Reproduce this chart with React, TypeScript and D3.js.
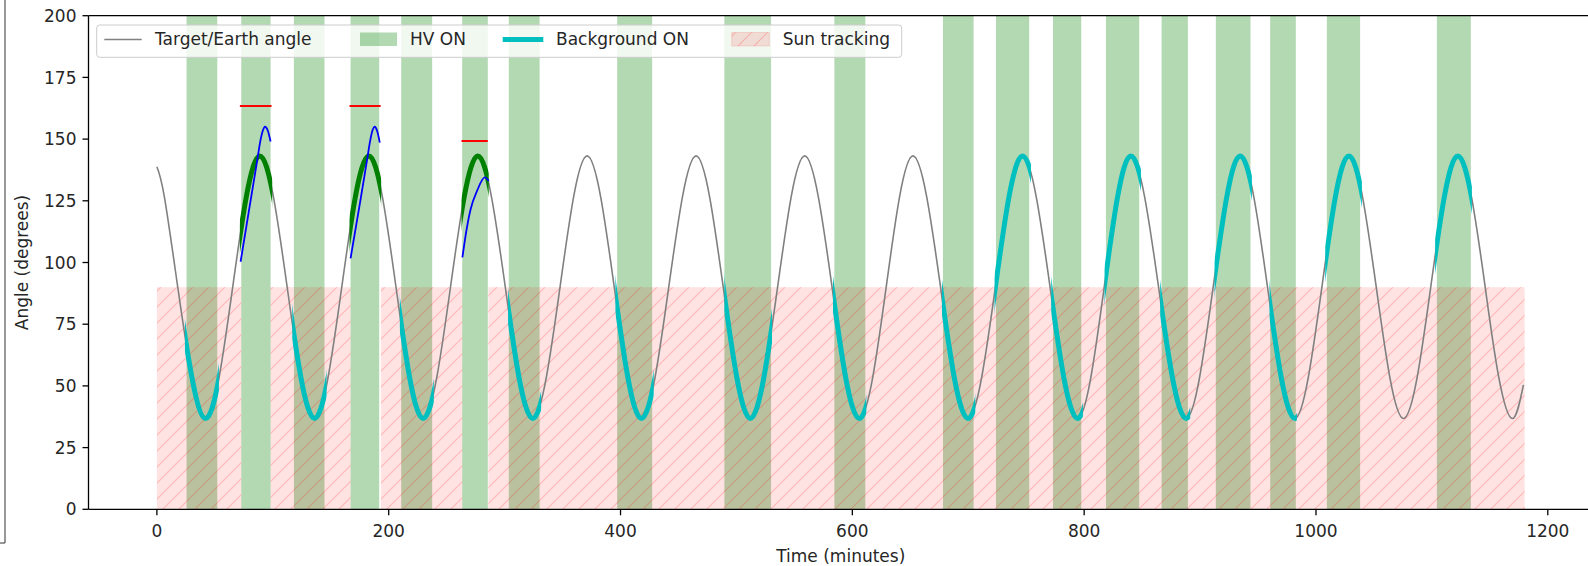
import * as d3 from "d3";

// Target/Earth angle (minutes, degrees)
const angleTimes = [
  0, 6.5, 18.0, 30.2, 42.0, 53.7, 65.4, 77.1, 88.8,
  100.6, 112.4, 124.2, 136.0, 147.7, 159.5, 171.2, 182.9,
  194.6, 206.3, 218.0, 229.7, 241.5, 253.3, 265.1, 276.9,
  288.7, 300.6, 312.4, 324.3, 336.0, 347.8, 359.5, 371.2,
  382.9, 394.6, 406.3, 418.0, 429.8, 441.6, 453.4, 465.2,
  476.9, 488.6, 500.3, 512.0, 523.7, 535.5, 547.2, 558.9,
  570.7, 582.5, 594.2, 606.0, 617.6, 629.2, 640.7, 652.3,
  664.2, 676.1, 687.9, 699.8, 711.6, 723.4, 735.1, 746.9,
  758.7, 770.6, 782.4, 794.3, 805.8, 817.3, 828.8, 840.3,
  852.2, 864.2, 876.1, 888.0, 899.6, 911.3, 923.0, 934.6,
  946.4, 958.2, 970.0, 981.8, 993.4, 1005.1, 1016.7, 1028.4,
  1040.2, 1052.0, 1063.7, 1075.5, 1087.3, 1099.0, 1110.7, 1122.4,
  1134.2, 1146.0, 1157.7, 1169.5, 1179.0,
];
const angleValues = [
  138.8, 126.5, 90, 53.5, 36.8, 53.5, 90, 126.5, 143.2,
  126.5, 90, 53.5, 36.8, 53.5, 90, 126.5, 143.2,
  126.5, 90, 53.5, 36.8, 53.5, 90, 126.5, 143.2,
  126.5, 90, 53.5, 36.8, 53.5, 90, 126.5, 143.2,
  126.5, 90, 53.5, 36.8, 53.5, 90, 126.5, 143.2,
  126.5, 90, 53.5, 36.8, 53.5, 90, 126.5, 143.2,
  126.5, 90, 53.5, 36.8, 53.5, 90, 126.5, 143.2,
  126.5, 90, 53.5, 36.8, 53.5, 90, 126.5, 143.2,
  126.5, 90, 53.5, 36.8, 53.5, 90, 126.5, 143.2,
  126.5, 90, 53.5, 36.8, 53.5, 90, 126.5, 143.2,
  126.5, 90, 53.5, 36.8, 53.5, 90, 126.5, 143.2,
  126.5, 90, 53.5, 36.8, 53.5, 90, 126.5, 143.2,
  126.5, 90, 53.5, 36.8, 50.4,
];

// HV ON periods [start, end] in minutes
const hvOn = [
  [25.6, 52.1], [72.8, 98.1], [118.2, 144.6], [167.1, 191.8], [210.8, 237.5],
  [263.4, 285.5], [303.6, 330.2], [397.1, 427.3], [489.6, 529.9], [584.5, 611.2],
  [678.2, 704.6], [723.9, 752.6], [773.1, 797.5], [818.8, 847.5], [866.8, 889.5],
  [913.6, 943.5], [960.5, 982.6], [1009.4, 1038.1], [1104.3, 1133.6],
];

// Background ON periods (cyan, on the angle curve)
const backgroundOn = [
  [24.2, 53.5], [116.8, 146.4], [209.6, 238.9], [303.0, 331.5], [395.6, 428.6],
  [489.6, 530.7], [583.3, 612.1], [677.3, 706.1], [722.7, 754.1], [771.6, 798.9],
  [817.6, 849.0], [865.6, 891.5], [912.5, 944.7], [959.9, 983.5], [1008.0, 1039.6],
  [1102.8, 1134.5],
];

// thick green parts of the angle curve
const greenArcs = [[71.6, 99.5], [166.2, 193.5], [262.8, 286.3]];

// Sun tracking periods, 0..90 degrees
const sunTracking = [[0, 72.8], [98.1, 167.1], [193.2, 263.4], [286.0, 1180.0]];
const sunTrackingTop = 90;

// blue arcs
const blueTimes = [
  [72.2, 80.8, 86.6, 89.4, 91.6, 93.2, 95.7, 98.1],
  [167.1, 175.7, 181.4, 184.1, 186.2, 187.8, 190.1, 192.3],
  [263.6, 266.2, 270.5, 276.3, 282.9, 286.3],
];
const blueValues = [
  [100.3, 125.0, 141.5, 149.6, 153.7, 155.0, 153.4, 149.0],
  [101.7, 125.5, 141.8, 149.6, 153.8, 155.0, 153.2, 148.6],
  [102.1, 110.5, 121.3, 129.1, 134.5, 133.0],
];

// red limits
const redStarts = [71.6, 166.2, 262.8];
const redEnds = [98.9, 193.0, 285.5];
const redValues = [163.4, 163.4, 149.2];

const xTicks = [0, 200, 400, 600, 800, 1000, 1200];
const yTicks = [0, 25, 50, 75, 100, 125, 150, 175, 200];

const W = 1588;
const H = 566;
const left = 88.5;
const right = 1593;
const top = 15.7;
const bottom = 509.3;
const FONT = "DejaVu Sans, sans-serif";
const FS = 17;

export default function App() {
  const x = d3.scaleLinear().domain([-59, 1239]).range([left, right]);
  const y = d3.scaleLinear().domain([0, 200]).range([bottom, top]);

  const line = d3
    .line<number[]>()
    .x((d) => x(d[0]))
    .y((d) => y(d[1]))
    .curve(d3.curveNatural);
  const anglePath = line(angleTimes.map((t, i) => [t, angleValues[i]])) || "";

  const blueLine = d3
    .line<number[]>()
    .x((d) => x(d[0]))
    .y((d) => y(d[1]))
    .curve(d3.curveMonotoneX);

  return (
    <svg
      width={W}
      height={H}
      style={{ position: "absolute", left: 0, top: 0, background: "#fff" }}
      fontFamily={FONT}
    >
      <defs>
        <clipPath id="plot">
          <rect x={left} y={top} width={right - left} height={bottom - top} />
        </clipPath>
        {backgroundOn.map((s, i) => (
          <clipPath id={"bg" + i} key={"bg" + i}>
            <rect x={x(s[0])} y={0} width={x(s[1]) - x(s[0])} height={H} />
          </clipPath>
        ))}
        {greenArcs.map((s, i) => (
          <clipPath id={"ga" + i} key={"ga" + i}>
            <rect x={x(s[0])} y={0} width={x(s[1]) - x(s[0])} height={H} />
          </clipPath>
        ))}
        <pattern id="hatch" patternUnits="userSpaceOnUse" width={16} height={16}>
          <path
            d="M-1,17 L17,-1 M-4,4 L4,-4 M12,20 L20,12"
            stroke="rgba(255,0,0,0.2)"
            strokeWidth={1.1}
          />
        </pattern>
      </defs>

      {/* frame piece at the left edge */}
      <path d="M0,543 H5 V0" fill="none" stroke="#333" strokeWidth={1} />

      <g clipPath="url(#plot)">
        {hvOn.map((s, i) => (
          <rect
            key={"hv" + i}
            x={x(s[0])}
            y={top}
            width={x(s[1]) - x(s[0])}
            height={bottom - top}
            fill="rgba(0,128,0,0.3)"
          />
        ))}
        {sunTracking.map((s, i) => (
          <g key={"sun" + i}>
            <rect
              x={x(s[0])}
              y={y(sunTrackingTop)}
              width={x(s[1]) - x(s[0])}
              height={y(0) - y(sunTrackingTop)}
              fill="rgba(255,0,0,0.11)"
            />
            <rect
              x={x(s[0])}
              y={y(sunTrackingTop)}
              width={x(s[1]) - x(s[0])}
              height={y(0) - y(sunTrackingTop)}
              fill="url(#hatch)"
            />
          </g>
        ))}
        <path d={anglePath} fill="none" stroke="#808080" strokeWidth={1.6} />
        {backgroundOn.map((s, i) => (
          <path
            key={"bgl" + i}
            d={anglePath}
            fill="none"
            stroke="#00bfbf"
            strokeWidth={5}
            clipPath={`url(#bg${i})`}
          />
        ))}
        {greenArcs.map((s, i) => (
          <path
            key={"gal" + i}
            d={anglePath}
            fill="none"
            stroke="#008000"
            strokeWidth={5}
            clipPath={`url(#ga${i})`}
          />
        ))}
        {blueTimes.map((ts, i) => (
          <path
            key={"bl" + i}
            d={blueLine(ts.map((t, j) => [t, blueValues[i][j]])) || ""}
            fill="none"
            stroke="#0000ff"
            strokeWidth={1.8}
          />
        ))}
        {redStarts.map((s, i) => (
          <line
            key={"red" + i}
            x1={x(s)}
            x2={x(redEnds[i])}
            y1={y(redValues[i])}
            y2={y(redValues[i])}
            stroke="#ff0000"
            strokeWidth={2}
          />
        ))}
      </g>

      {/* spines */}
      <g fill="none" stroke="#000" strokeWidth={1.3}>
        <line x1={left} x2={left} y1={top} y2={bottom} />
        <line x1={right} x2={right} y1={top} y2={bottom} />
        <line x1={left} x2={right} y1={top} y2={top} />
        <line x1={left} x2={right} y1={bottom} y2={bottom} />
      </g>

      {/* y axis */}
      {yTicks.map((t) => (
        <g key={"yt" + t}>
          <line x1={left - 6} x2={left} y1={y(t)} y2={y(t)} stroke="#000" strokeWidth={1.3} />
          <text x={left - 12} y={y(t)} dy="0.36em" textAnchor="end" fontSize={FS} fill="#262626">
            {t}
          </text>
        </g>
      ))}
      {/* x axis */}
      {xTicks.map((t) => (
        <g key={"xt" + t}>
          <line x1={x(t)} x2={x(t)} y1={bottom} y2={bottom + 6} stroke="#000" strokeWidth={1.3} />
          <text x={x(t)} y={536.7} textAnchor="middle" fontSize={FS} fill="#262626">
            {t}
          </text>
        </g>
      ))}
      <text x={(left + right) / 2} y={562} textAnchor="middle" fontSize={FS} fill="#262626">
        Time (minutes)
      </text>
      <text
        transform={`translate(28,${(top + bottom) / 2}) rotate(-90)`}
        textAnchor="middle"
        fontSize={FS}
        fill="#262626"
      >
        Angle (degrees)
      </text>

      {/* legend */}
      <g>
        <rect
          x={96.7}
          y={25}
          width={805}
          height={32.3}
          rx={3}
          fill="rgba(255,255,255,0.8)"
          stroke="#cccccc"
          strokeWidth={1}
        />
        <line x1={104.3} x2={141.7} y1={39.5} y2={39.5} stroke="#808080" strokeWidth={1.6} />
        <text x={155} y={45} fontSize={FS} fill="#262626">Target/Earth angle</text>
        <rect x={360} y={32.5} width={37} height={13.5} fill="rgba(0,128,0,0.3)" />
        <text x={410} y={45} fontSize={FS} fill="#262626">HV ON</text>
        <line x1={502.7} x2={543.3} y1={39.5} y2={39.5} stroke="#00bfbf" strokeWidth={5} />
        <text x={556} y={45} fontSize={FS} fill="#262626">Background ON</text>
        <rect x={731.7} y={32.5} width={37.6} height={13.5} fill="rgba(255,0,0,0.11)" />
        <rect x={731.7} y={32.5} width={37.6} height={13.5} fill="url(#hatch)" stroke="rgba(255,0,0,0.12)" />
        <text x={782.7} y={45} fontSize={FS} fill="#262626">Sun tracking</text>
      </g>
    </svg>
  );
}
